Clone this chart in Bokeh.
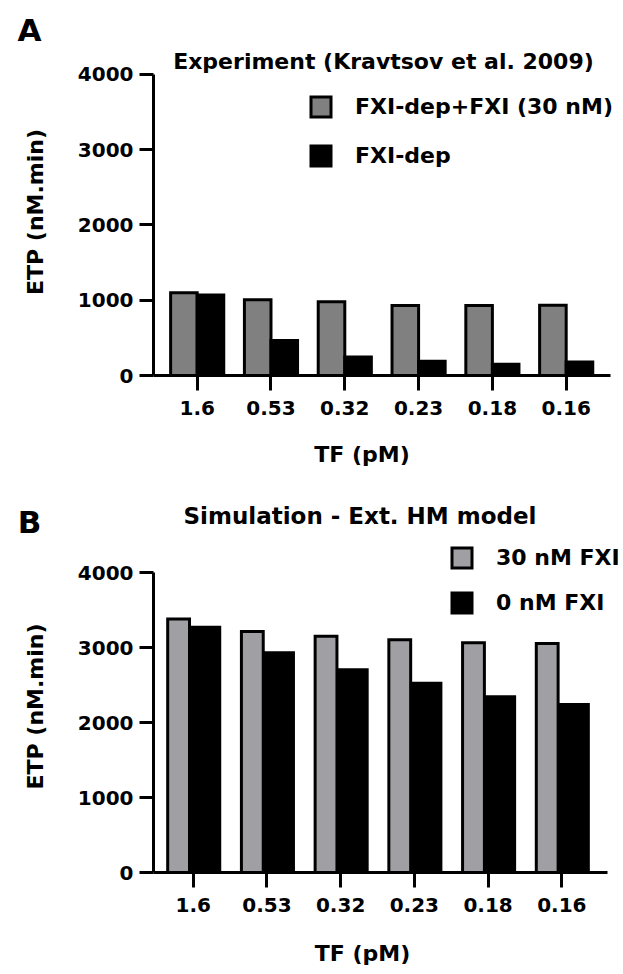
from bokeh.plotting import figure
from bokeh.models import (Range1d, FixedTicker, Label, Legend, LegendItem,
                          ColumnDataSource)
from bokeh.transform import dodge
from bokeh.layouts import column
from bokeh.embed import file_html
from bokeh.resources import INLINE

# ---- data ----
tf_labels = ["1.6", "0.53", "0.32", "0.23", "0.18", "0.16"]
exp_fxi30 = [1100, 1005, 980, 930, 930, 935]      # FXI-dep+FXI (30 nM)
exp_fxidep = [1070, 465, 245, 190, 150, 180]      # FXI-dep
sim_fxi30 = [3380, 3215, 3150, 3105, 3065, 3055]  # 30 nM FXI
sim_fxi0 = [3270, 2930, 2705, 2525, 2345, 2240]   # 0 nM FXI
y_ticks = [0, 1000, 2000, 3000, 4000]

FONT = "DejaVu Sans"
W = 623
LEFT = 153   # frame left (y axis position)
RIGHT = 1    # right border
idx = list(range(len(tf_labels)))


def main_fig(height, bb, x_start, x_end, x_bounds, y_top):
    p = figure(x_range=Range1d(x_start, x_end), y_range=Range1d(0, y_top),
               width=W, height=height,
               min_border_left=LEFT, min_border_right=RIGHT,
               min_border_top=0, min_border_bottom=bb,
               output_backend="svg", toolbar_location=None)
    p.xgrid.visible = False
    p.ygrid.visible = False
    p.outline_line_color = None
    p.yaxis.ticker = FixedTicker(ticks=y_ticks)
    p.yaxis.bounds = (0, 4000)
    p.xaxis.ticker = FixedTicker(ticks=idx)
    p.xaxis.major_label_overrides = {i: t for i, t in zip(idx, tf_labels)}
    p.xaxis.bounds = x_bounds
    for ax in p.axis:
        ax.axis_line_width = 3
        ax.axis_line_color = "black"
        ax.major_tick_line_width = 3
        ax.major_tick_line_color = "black"
        ax.major_tick_in = 0
        ax.minor_tick_line_color = None
        ax.major_label_text_font = FONT
        ax.major_label_text_font_style = "bold"
        ax.major_label_text_font_size = "20px"
        ax.major_label_text_color = "black"
    p.yaxis.major_tick_out = 14
    p.yaxis.major_label_standoff = 6
    p.xaxis.major_tick_out = 15
    p.xaxis.major_label_standoff = 10
    p.yaxis.axis_label = "ETP (nM.min)"
    p.yaxis.axis_label_text_font = FONT
    p.yaxis.axis_label_text_font_style = "bold"
    p.yaxis.axis_label_text_font_size = "22px"
    p.yaxis.axis_label_text_color = "black"
    p.yaxis.axis_label_standoff = 27
    return p


def strip(top, height, letter=None, letter_y=None):
    s = figure(width=W, height=height, x_range=Range1d(LEFT, W - RIGHT),
               y_range=Range1d(top + height, top),
               min_border_left=LEFT, min_border_right=RIGHT,
               min_border_top=0, min_border_bottom=0,
               x_axis_type=None, y_axis_type=None if letter is None else "linear",
               output_backend="svg", toolbar_location=None)
    s.xgrid.visible = False
    s.ygrid.visible = False
    s.outline_line_color = None
    if letter is not None:
        ax = s.yaxis[0]
        ax.ticker = FixedTicker(ticks=[letter_y])
        ax.major_label_overrides = {letter_y: letter}
        ax.axis_line_color = None
        ax.major_tick_line_color = None
        ax.minor_tick_line_color = None
        ax.major_tick_out = 0
        ax.major_tick_in = 0
        ax.major_label_standoff = 112
        ax.major_label_text_font = FONT
        ax.major_label_text_font_style = "bold"
        ax.major_label_text_font_size = "31px"
        ax.major_label_text_color = "black"
    return s


def lab(p, x, y, text, size="22px"):
    p.add_layout(Label(x=x, y=y, text=text, text_font=FONT,
                       text_font_style="bold", text_font_size=size,
                       text_align="center", text_baseline="middle",
                       text_color="black"))


def legend(p, items, loc, spacing):
    leg = Legend(items=items, location=loc, orientation="vertical",
                 glyph_width=25, glyph_height=25, label_height=25,
                 label_standoff=22, spacing=spacing, padding=0, margin=0,
                 border_line_color=None, background_fill_alpha=0,
                 label_text_font=FONT, label_text_font_style="bold",
                 label_text_font_size="22px", label_text_color="black")
    p.add_layout(leg)


# ---- header strip: panel letter A ----
head = strip(0, 48, letter="A", letter_y=29)

# ---- Panel A ----
pA = main_fig(382, 55, -0.592, 5.763, (-0.592, 5.6), 4345.5)
srcA = ColumnDataSource(dict(x=idx, a=exp_fxi30, b=exp_fxidep))
rA1 = pA.vbar(x=dodge("x", -0.18), top="a", width=0.36, source=srcA,
              fill_color="#808080", line_color="black", line_width=3,
              line_join="miter")
rA2 = pA.vbar(x=dodge("x", 0.18), top="b", width=0.36, source=srcA,
              fill_color="black", line_color="black", line_width=3,
              line_join="miter")
legend(pA, [LegendItem(label="FXI-dep+FXI (30 nM)", renderers=[rA1]),
            LegendItem(label="FXI-dep", renderers=[rA2])], (155, 207), 24)
lab(pA, 2.524, 4179, "Experiment (Kravtsov et al. 2009)")

# ---- middle strip: A x-title, letter B, B title ----
mid = strip(430, 110, letter="B", letter_y=521)
lab(mid, 361.5, 453.5, "TF (pM)")
lab(mid, 359.5, 515, "Simulation - Ext. HM model", size="23px")

# ---- Panel B ----
pB = main_fig(390, 58, -0.5385, 5.8234, (-0.5385, 5.62), 4426.7)
srcB = ColumnDataSource(dict(x=idx, a=sim_fxi30, b=sim_fxi0))
rB1 = pB.vbar(x=dodge("x", -0.198), top="a", width=0.296, source=srcB,
              fill_color="#a0a0a4", line_color="black", line_width=3,
              line_join="miter")
rB2 = pB.vbar(x=dodge("x", 0.16), top="b", width=0.40, source=srcB,
              fill_color="black", line_color="black", line_width=3,
              line_join="miter")
legend(pB, [LegendItem(label="30 nM FXI", renderers=[rB1]),
            LegendItem(label="0 nM FXI", renderers=[rB2])], (296, 257), 20)

# ---- footer strip: B x-title ----
foot = strip(930, 40)
lab(foot, 362, 952.5, "TF (pM)")

layout = column(head, pA, mid, pB, foot, spacing=0)
open("out.html", "w").write(file_html(layout, INLINE))
